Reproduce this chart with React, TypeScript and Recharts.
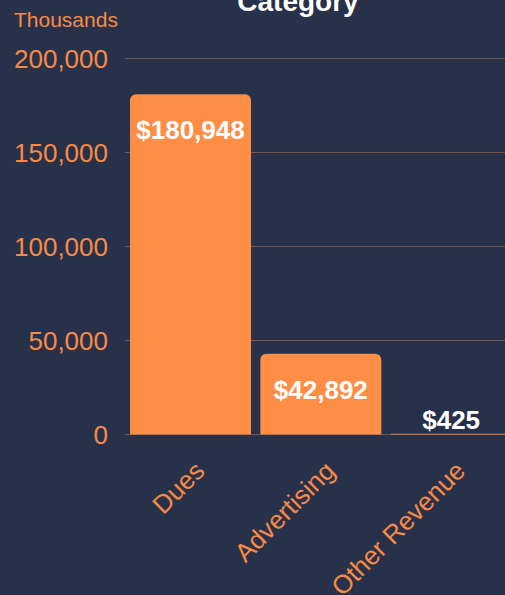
import React from "react";
import { BarChart, Bar, XAxis, YAxis, CartesianGrid, LabelList } from "recharts";

const categories = ["Dues", "Advertising", "Other Revenue"];
const revenue = [180948, 42892, 425];
const yTicks = [0, 50000, 100000, 150000, 200000];
const titleText = "Category";
const unitText = "Thousands";

const data = categories.map((c, i) => ({ name: c, value: revenue[i] }));

const BG = "#28314a";
const ORANGE = "#fe8d46";
const TICK = "#f98a45";
const FONT = "'Liberation Sans', Arial, sans-serif";

const fmtTick = (v: number) => v.toLocaleString("en-US");
const fmtMoney = (v: number) => "$" + v.toLocaleString("en-US");

const CatTick = (props: any) => {
  const { x, y, payload } = props;
  const ax = x + 16;
  const ay = y + 30;
  return (
    <text
      x={ax}
      y={ay}
      transform={`rotate(-45, ${ax}, ${ay})`}
      textAnchor="end"
      fill={TICK}
      fontSize={26}
      fontFamily={FONT}
    >
      {payload.value}
    </text>
  );
};

const BarValueLabel = (props: any) => {
  const { x, y, width, height, value } = props;
  const cx = x + width / 2;
  const big = height > 50;
  const cy = big ? y + 36 : y + height - 15;
  return (
    <text
      x={cx}
      y={cy}
      dy="0.35em"
      textAnchor="middle"
      fill="#ffffff"
      fontSize={26}
      fontWeight="bold"
      fontFamily={FONT}
    >
      {fmtMoney(value)}
    </text>
  );
};

export default function App() {
  return (
    <div
      style={{
        position: "absolute",
        left: 0,
        top: 0,
        width: 505,
        height: 595,
        overflow: "hidden",
        background: BG,
      }}
    >
      <BarChart
        width={516}
        height={595}
        data={data}
        margin={{ top: 58.5, right: 0, left: 0, bottom: 0 }}
      >
        <CartesianGrid
          vertical={false}
          stroke={ORANGE}
          strokeOpacity={0.38}
        />
        <XAxis
          dataKey="name"
          height={160.5}
          axisLine={false}
          tickLine={false}
          interval={0}
          tick={<CatTick />}
        />
        <YAxis
          width={125}
          domain={[0, 200000]}
          ticks={yTicks}
          axisLine={false}
          tickLine={false}
          tickSize={8}
          tickMargin={9}
          tickFormatter={fmtTick}
          tick={{ fill: TICK, fontSize: 26, fontFamily: FONT }}
        />
        <Bar
          dataKey="value"
          fill={ORANGE}
          barSize={121}
          radius={[6, 6, 0, 0]}
          isAnimationActive={false}
        >
          <LabelList dataKey="value" content={<BarValueLabel />} />
        </Bar>
      </BarChart>
      <svg
        width={505}
        height={60}
        style={{ position: "absolute", left: 0, top: 0, pointerEvents: "none" }}
      >
        <text
          x={298}
          y={11}
          textAnchor="middle"
          fill="#ffffff"
          fontSize={28}
          fontWeight="bold"
          fontFamily={FONT}
        >
          {titleText}
        </text>
        <text x={14} y={27} fill={TICK} fontSize={21} fontFamily={FONT}>
          {unitText}
        </text>
      </svg>
    </div>
  );
}
